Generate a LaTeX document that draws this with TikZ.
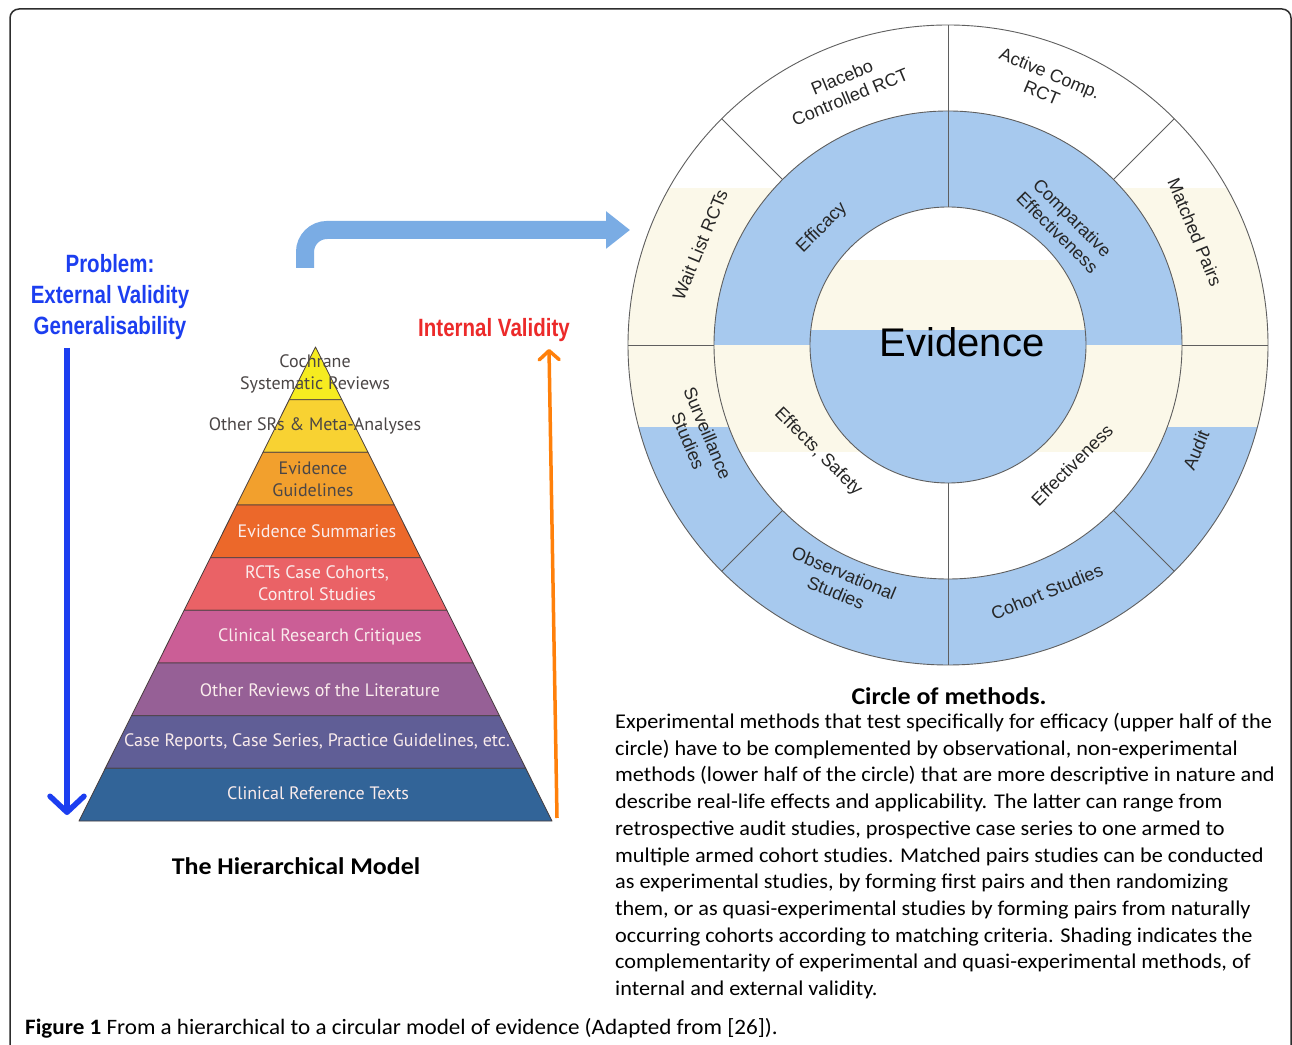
\documentclass[tikz,border=0pt]{standalone}
\usepackage{fontspec}
\setmainfont{Carlito}
\newfontfamily\parf[FakeStretch=1.06]{Carlito}
\newfontfamily\wcal[FakeStretch=1.08]{Carlito}
\newfontfamily\capf[FakeStretch=1.05]{Carlito}
\newfontfamily\arialf{Liberation Sans}
\newfontfamily\narrowf[FakeStretch=0.82]{Liberation Sans}
\newfontfamily\pyrf{PT Sans}
\usetikzlibrary{arrows.meta}
\definecolor{ringblue}{RGB}{167,201,238}
\definecolor{cream}{RGB}{251,248,233}
\definecolor{ringline}{RGB}{95,95,95}
\definecolor{pyA}{RGB}{246,236,32}
\definecolor{pyB}{RGB}{248,210,50}
\definecolor{pyC}{RGB}{242,160,45}
\definecolor{pyD}{RGB}{236,104,42}
\definecolor{pyE}{RGB}{234,98,102}
\definecolor{pyF}{RGB}{203,94,150}
\definecolor{pyG}{RGB}{150,96,150}
\definecolor{pyH}{RGB}{96,94,150}
\definecolor{pyI}{RGB}{50,100,152}
\definecolor{pyline}{RGB}{70,60,60}
\definecolor{pydark}{RGB}{75,70,70}
\definecolor{pylight}{RGB}{250,236,236}
\definecolor{extblue}{RGB}{28,62,240}
\definecolor{intred}{RGB}{236,42,42}
\definecolor{intorange}{RGB}{255,128,10}
\definecolor{bigarrow}{RGB}{122,172,228}
\definecolor{framecol}{RGB}{45,45,45}
\tikzset{
  clab/.style={font=\arialf\fontsize{18}{21}\selectfont, text=black!85, align=center, inner sep=0},
  pyrtxt/.style={font=\pyrf\fontsize{18}{22}\selectfont, align=center, inner sep=0},
  sidetxt/.style={font=\narrowf\bfseries\fontsize{25}{31}\selectfont, align=center, inner sep=0},
  ringdiv/.style={draw=ringline, line width=0.9},
  titletxt/.style={font=\wcal\bfseries\fontsize{24}{28}\selectfont, inner sep=0},
}
\begin{document}
\begin{tikzpicture}[x=1pt,y=1pt]
\useasboundingbox (0,0) rectangle (1292,1044);
\fill[white] (0,0) rectangle (1292,1044);
% frame
\draw[framecol, line width=1.5, rounded corners=9] (10,-30) -- (10,1035) -- (1291,1035) -- (1291,-30);

% ---------- circle of methods ----------
\coordinate (C) at (948,699);
\begin{scope}
  \clip (C) circle (320);
  \fill[white] (620,370) rectangle (1280,1030);
  \fill[cream] (620,617) rectangle (1280,856);
  \fill[ringblue] (620,370) rectangle (1280,617);
\end{scope}
\begin{scope}
  \clip (C) circle (234);
  \fill[ringblue] (700,699) rectangle (1200,940);
  \fill[cream] (700,592) rectangle (1200,699);
  \fill[white] (700,450) rectangle (1200,592);
\end{scope}
\begin{scope}
  \clip (C) circle (138);
  \fill[white] (800,784) rectangle (1100,850);
  \fill[cream] (800,714) rectangle (1100,784);
  \fill[ringblue] (800,550) rectangle (1100,714);
\end{scope}
\draw[ringdiv] (C) circle (320);
\draw[ringdiv] (C) circle (234);
\draw[ringdiv] (C) circle (138);
\foreach \a in {0,45,135,180,225,315}
  \draw[ringdiv] ([shift={(\a:234)}]C) -- ([shift={(\a:320)}]C);
\draw[ringdiv] ([shift={(90:138)}]C) -- ([shift={(90:320)}]C);
\draw[ringdiv] ([shift={(270:138)}]C) -- ([shift={(270:320)}]C);

\node[clab, rotate=22.5] (plac) at (846,957) {Placebo\\Controlled RCT};
\node[clab, rotate=-22.5] (actv) at (1046,961) {Active Comp.\\RCT};
\node[clab, rotate=67.5] (wait) at (700,799) {Wait List RCTs};
\node[clab, rotate=-67.5] (matc) at (1195,812) {Matched Pairs};
\node[clab, rotate=-67.5] (surv) at (698,607) {Surveillance\\Studies};
\node[clab, rotate=67.5] (audi) at (1196,594) {Audit};
\node[clab, rotate=-22.5] (obsv) at (840,461) {Observational\\Studies};
\node[clab, rotate=22.5] (coho) at (1047,452) {Cohort Studies};
\node[clab, rotate=45] (effi) at (822,816) {Efficacy};
\node[clab, rotate=-45] (comp) at (1065,819) {Comparative\\Effectiveness};
\node[clab, rotate=-45] (effs) at (818,592) {Effects, Safety};
\node[clab, rotate=45] (effe) at (1072,579) {Effectiveness};
\node[font=\arialf\fontsize{40}{44}\selectfont, text=black, inner sep=0] (evid) at (962,702) {Evidence};

% ---------- big blue arrow ----------
\coordinate (bastart) at (305,776);
\coordinate (baend) at (630,814);
\draw[bigarrow, line width=18, rounded corners=22, -{Triangle[length=24pt,width=36pt]}]
  (bastart) -- (305,814) -- (baend);

% ---------- pyramid ----------
\foreach \i/\c in {0/pyA,1/pyB,2/pyC,3/pyD,4/pyE,5/pyF,6/pyG,7/pyH,8/pyI}{
  \filldraw[fill=\c, draw=pyline, line width=0.8, line join=round]
    ({315.5-\i*26.278},{697-\i*52.667}) -- ({315.5+\i*26.278},{697-\i*52.667})
    -- ({315.5+(\i+1)*26.278},{697-(\i+1)*52.667}) -- ({315.5-(\i+1)*26.278},{697-(\i+1)*52.667}) -- cycle;
}
\node[pyrtxt, text=pydark] (coch) at (315,670) {Cochrane\\Systematic Reviews};
\node[pyrtxt, text=pydark] (othe) at (315,618) {Other SRs \& Meta-Analyses};
\node[pyrtxt, text=pydark] (evgu) at (313,565) {Evidence\\Guidelines};
\node[pyrtxt, text=pylight] (evsu) at (317,513) {Evidence Summaries};
\node[pyrtxt, text=pylight] (rcts) at (317,461) {RCTs Case Cohorts,\\Control Studies};
\node[pyrtxt, text=pylight] (crit) at (320,407) {Clinical Research Critiques};
\node[pyrtxt, text=pylight] (orev) at (320,354) {Other Reviews of the Literature};
\node[pyrtxt, text=pylight] (case) at (317,302) {Case Reports, Case Series, Practice Guidelines, etc.};
\node[pyrtxt, text=pylight] (cref) at (318,251) {Clinical Reference Texts};
\node[titletxt] (hier) at (296,178) {The Hierarchical Model};

% ---------- validity labels and arrows ----------
\node[sidetxt, text=extblue] (prob) at (110,747) {Problem:\\External Validity\\Generalisability};
\coordinate (extS) at (67,696);
\coordinate (extE) at (67,229);
\draw[extblue, line width=5.5, -{Straight Barb[length=16pt,width=34pt,round]}] (extS) -- (extE);

\node[sidetxt, text=intred] (intv) at (494,714) {Internal Validity};
\coordinate (intS) at (557,226);
\coordinate (intE) at (549,695);
\draw[intorange, line width=3.5, -{Straight Barb[length=9pt,width=20pt,round]}] (intS) -- (intE);

% ---------- text block ----------
\node[titletxt] (ctit) at (949,348) {Circle of methods.};
\node[font=\parf\fontsize{21}{26.7}\selectfont, align=left, anchor=north west, inner sep=0] (para) at (615,331) {%
Experimental methods that test specifically for efficacy (upper half of the\\
circle) have to be complemented by observational, non-experimental\\
methods (lower half of the circle) that are more descriptive in nature and\\
describe real-life effects and applicability. The latter can range from\\
retrospective audit studies, prospective case series to one armed to\\
multiple armed cohort studies. Matched pairs studies can be conducted\\
as experimental studies, by forming first pairs and then randomizing\\
them, or as quasi-experimental studies by forming pairs from naturally\\
occurring cohorts according to matching criteria. Shading indicates the\\
complementarity of experimental and quasi-experimental methods, of\\
internal and external validity.};

\node[font=\capf\fontsize{22}{26}\selectfont, anchor=base west, inner sep=0] (capt) at (25,10) {\textbf{Figure 1} From a hierarchical to a circular model of evidence (Adapted from [26]).};
\end{tikzpicture}
\end{document}
